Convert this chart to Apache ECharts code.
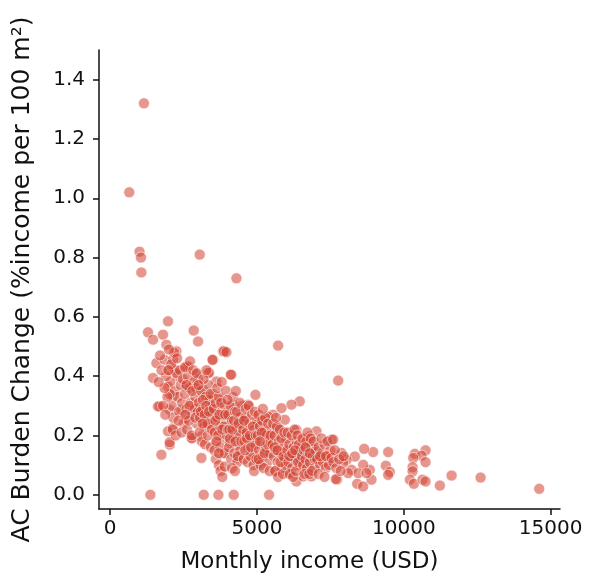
<!DOCTYPE html>
<html>
<head>
<meta charset="utf-8">
<script src="https://cdn.jsdelivr.net/npm/echarts@6/dist/echarts.min.js"></script>
<style>
html,body{margin:0;padding:0;background:#fff;}
#chart{width:590px;height:583px;}
</style>
</head>
<body>
<div id="chart"></div>
<script>
// Tick labels
const xTicks = [0, 5000, 10000, 15000];
const yTicks = [0, 0.2, 0.4, 0.6, 0.8, 1.0, 1.2, 1.4];

// Outliers and zero-burden households [income, burden]
const outliers = [
  [650,1.02],[1150,1.32],[1000,0.82],[1050,0.80],[1063,0.75],[3050,0.81],[4300,0.73],
  [5720,0.503],[7765,0.385],
  [1370,0],[3187,0],[3687,0],[4209,0],[5412,0],
  [14613,0.020],[12616,0.058],[11628,0.065],[11229,0.031]
];

// Low-income branch (≈1300–4000 USD)
const lowIncome = [
  [1970,0.585],[1289,0.548],[1460,0.523],[1800,0.540],[2846,0.554],[2993,0.517],[1915,0.506],
  [2256,0.484],[1575,0.444],[1857,0.455],[3504,0.455],[1460,0.394],[2028,0.422],[2597,0.433],
  [2993,0.388],[3333,0.411],[3844,0.484],[1970,0.365],[2311,0.399],[2597,0.365],[3163,0.354],
  [3619,0.382],[1687,0.298],[2028,0.287],[2426,0.287],[2140,0.332],[2597,0.259],[2938,0.298],
  [3278,0.332],[3732,0.321],[3391,0.287],[3163,0.253],[3732,0.264],[2767,0.191],[3108,0.197],
  [2140,0.225],[2028,0.169],[1745,0.135],[3108,0.124],[3619,0.174],[3844,0.141],[3732,0.219],
  [3391,0.230],[1629,0.298],[1970,0.214],[2028,0.177],[2788,0.191],[3878,0.484],[3367,0.411],
  [2937,0.405],[4130,0.405],[2198,0.422],[2651,0.433],[3483,0.455],[2140,0.455],
  [2050,0.38],[2100,0.30],[2150,0.26],[2200,0.35],[2250,0.41],[2300,0.33],[2350,0.28],[2400,0.37],
  [2450,0.31],[2500,0.24],[2080,0.44],[2180,0.48],[2280,0.46],[2380,0.42],[2480,0.39],[2030,0.34],
  [2130,0.22],[2230,0.20],[2330,0.25],[2430,0.21],[1900,0.40],[1950,0.33],[1850,0.36],[1800,0.30],
  [1750,0.42],[1700,0.47],[1650,0.38],[1880,0.27],[1980,0.42],[2000,0.49],
  [2550,0.34],[2600,0.29],[2650,0.40],[2700,0.36],[2750,0.31],[2800,0.27],[2850,0.38],[2900,0.33],
  [2950,0.24],[2550,0.43],[2620,0.22],[2680,0.25],[2720,0.45],[2780,0.20],[2830,0.42],[2880,0.29],
  [2920,0.36],[2980,0.28],[2600,0.37],[2700,0.30],[2800,0.35],[2900,0.26],[2950,0.41],[2560,0.27],
  [3020,0.31],[3060,0.26],[3100,0.35],[3150,0.29],[3200,0.23],[3250,0.33],[3300,0.27],[3350,0.37],
  [3400,0.30],[3450,0.25],[3500,0.34],[3050,0.21],[3120,0.18],[3180,0.39],[3230,0.17],[3280,0.42],
  [3330,0.20],[3380,0.32],[3430,0.16],[3480,0.28],[3010,0.37],[3090,0.28],[3160,0.32],[3220,0.27],
  [3270,0.30],[3320,0.24],[3370,0.28],[3420,0.34],[3470,0.22],[3150,0.24],
  [3530,0.29],[3560,0.21],[3600,0.31],[3650,0.26],[3700,0.33],[3750,0.23],[3800,0.28],[3850,0.19],
  [3900,0.30],[3950,0.25],[3550,0.15],[3600,0.12],[3650,0.36],[3700,0.10],[3750,0.16],[3800,0.38],
  [3850,0.27],[3900,0.14],[3950,0.35],[3580,0.25],[3680,0.20],[3780,0.31],[3880,0.23],[3980,0.20],
  [3620,0.18],[3720,0.27],[3820,0.22],[3920,0.27],[3700,0.14],[3760,0.08],[3820,0.06]
];

// Middle-income band (≈4000–7500 USD)
const midIncome = [
  [3960,0.481],[4107,0.405],[4948,0.337],[6458,0.315],[6175,0.304],[5834,0.292],[5548,0.270],
  [5947,0.253],[6346,0.219],[7027,0.214],[7538,0.186],[6799,0.197],[6629,0.163],[7310,0.129],
  [5947,0.141],[6060,0.073],[6346,0.045],[6571,0.062],[6857,0.062],[4355,0.124],[5037,0.107],
  [5378,0.141],[5606,0.079],[4866,0.163],[4584,0.197],[5265,0.219],[5719,0.225],[5037,0.247],
  [4471,0.264],[4185,0.304],[4696,0.304],[5378,0.264],[6629,0.186],[7082,0.141],[6857,0.118],
  [6346,0.124],[4015,0.219],[4073,0.174],[3902,0.095],
  [4020,0.27],[4060,0.22],[4100,0.30],[4150,0.25],[4200,0.19],[4250,0.28],[4300,0.23],[4350,0.17],
  [4400,0.26],[4450,0.21],[4500,0.30],[4050,0.16],[4120,0.12],[4180,0.33],[4230,0.14],[4280,0.35],
  [4330,0.11],[4380,0.20],[4430,0.15],[4480,0.24],[4000,0.32],[4080,0.19],[4160,0.22],[4220,0.25],
  [4270,0.18],[4320,0.28],[4370,0.24],[4420,0.31],[4470,0.18],[4150,0.09],[4250,0.08],[4350,0.13],
  [4530,0.22],[4570,0.18],[4600,0.26],[4650,0.21],[4700,0.16],[4750,0.24],[4800,0.19],[4850,0.14],
  [4900,0.22],[4950,0.17],[5000,0.25],[4550,0.12],[4620,0.29],[4680,0.11],[4720,0.30],[4780,0.13],
  [4830,0.27],[4880,0.10],[4930,0.28],[4980,0.12],[4560,0.25],[4660,0.19],[4760,0.20],[4860,0.23],
  [4960,0.20],[4600,0.15],[4800,0.16],[4900,0.08],
  [5030,0.20],[5070,0.15],[5100,0.23],[5150,0.18],[5200,0.13],[5250,0.21],[5300,0.16],[5350,0.11],
  [5400,0.19],[5450,0.14],[5500,0.22],[5050,0.27],[5120,0.10],[5180,0.25],[5230,0.09],[5280,0.26],
  [5330,0.20],[5380,0.24],[5430,0.08],[5480,0.17],[5060,0.12],[5160,0.21],[5260,0.14],[5360,0.17],
  [5460,0.20],[5200,0.29],[5100,0.18],
  [5530,0.17],[5570,0.13],[5600,0.20],[5650,0.15],[5700,0.11],[5750,0.18],[5800,0.14],[5850,0.09],
  [5900,0.16],[5950,0.12],[6000,0.19],[5550,0.24],[5620,0.08],[5680,0.23],[5720,0.06],[5780,0.22],
  [5830,0.19],[5880,0.07],[5930,0.21],[5980,0.10],[5600,0.16],[5700,0.15],[5800,0.11],[5900,0.13],
  [5650,0.26],
  [6030,0.15],[6070,0.11],[6100,0.17],[6150,0.13],[6200,0.09],[6250,0.16],[6300,0.12],[6350,0.18],
  [6400,0.14],[6450,0.10],[6500,0.16],[6050,0.21],[6120,0.07],[6180,0.20],[6230,0.06],[6280,0.22],
  [6330,0.08],[6380,0.20],[6430,0.17],[6480,0.12],[6100,0.13],[6200,0.14],[6300,0.15],[6400,0.11],
  [6530,0.13],[6570,0.10],[6600,0.15],[6650,0.12],[6700,0.09],[6750,0.14],[6800,0.11],[6850,0.16],
  [6900,0.13],[6950,0.09],[7000,0.15],[6550,0.19],[6620,0.07],[6680,0.18],[6720,0.21],[6780,0.07],
  [6830,0.19],[6880,0.08],[6930,0.18],[6980,0.12],[6650,0.16],[6800,0.14],
  [7050,0.12],[7100,0.16],[7150,0.10],[7200,0.14],[7250,0.11],[7300,0.17],[7350,0.09],[7400,0.13],
  [7450,0.10],[7500,0.15],[7100,0.07],[7200,0.19],[7300,0.06],[7400,0.18],[7150,0.13],[7350,0.13]
];

// Higher-income tail (≈7500–11000 USD)
const highIncome = [
  [9468,0.144],[8957,0.144],[8650,0.155],[9389,0.098],[9525,0.077],[9468,0.067],[10377,0.138],
  [10741,0.150],[10605,0.132],[10320,0.124],[10741,0.110],[10299,0.093],[10299,0.079],[10207,0.051],
  [10343,0.037],[10640,0.051],[10741,0.045],[7593,0.186],[7729,0.051],[8411,0.037],[8616,0.028],
  [8900,0.051],[8843,0.084],[8616,0.101],[8332,0.129],[8050,0.118],[7879,0.141],[7538,0.124],
  [8220,0.084],[8445,0.073],[8731,0.073],[8104,0.073],[7934,0.107],[7685,0.053],
  [7600,0.11],[7650,0.15],[7700,0.09],[7800,0.12],[7850,0.08],[7950,0.13]
];

const allPoints = outliers.concat(lowIncome, midIncome, highIncome);

const chart = echarts.init(document.getElementById('chart'), null, {renderer: 'canvas'});
const FONT = 'DejaVu Sans';
const INK = '#111111';
chart.setOption({
  animation: false,
  backgroundColor: '#ffffff',
  grid: {left: 99, right: 30, top: 50, bottom: 74, containLabel: false, outerBoundsMode: 'none'},
  xAxis: {
    type: 'value', min: -380, max: 15320,
    name: 'Monthly income (USD)', nameLocation: 'middle', nameGap: 42,
    nameTextStyle: {fontFamily: FONT, fontSize: 23, color: INK, padding: [0, 40, 0, 0]},
    axisLine: {onZero: false, lineStyle: {color: INK, width: 1.5}},
    axisTick: {show: true, length: 6, lineStyle: {color: INK, width: 1.5}, customValues: xTicks},
    axisLabel: {fontFamily: FONT, fontSize: 20, color: INK, margin: 10, customValues: xTicks,
      formatter: v => String(v)},
    splitLine: {show: false}
  },
  yAxis: {
    type: 'value', min: -0.048, max: 1.5,
    name: 'AC Burden Change (%income per 100 m²)', nameLocation: 'middle', nameGap: 64,
    nameTextStyle: {fontFamily: FONT, fontSize: 25, color: INK},
    axisLine: {onZero: false, lineStyle: {color: INK, width: 1.5}},
    axisTick: {show: true, length: 6, lineStyle: {color: INK, width: 1.5}, customValues: yTicks},
    axisLabel: {fontFamily: FONT, fontSize: 20, color: INK, margin: 14, customValues: yTicks,
      formatter: v => v.toFixed(1)},
    splitLine: {show: false}
  },
  series: [{
    type: 'scatter',
    data: allPoints,
    symbolSize: 11,
    itemStyle: {color: '#d24434', opacity: 0.56, borderColor: '#ffffff', borderWidth: 1}
  }]
});
</script>
</body>
</html>
